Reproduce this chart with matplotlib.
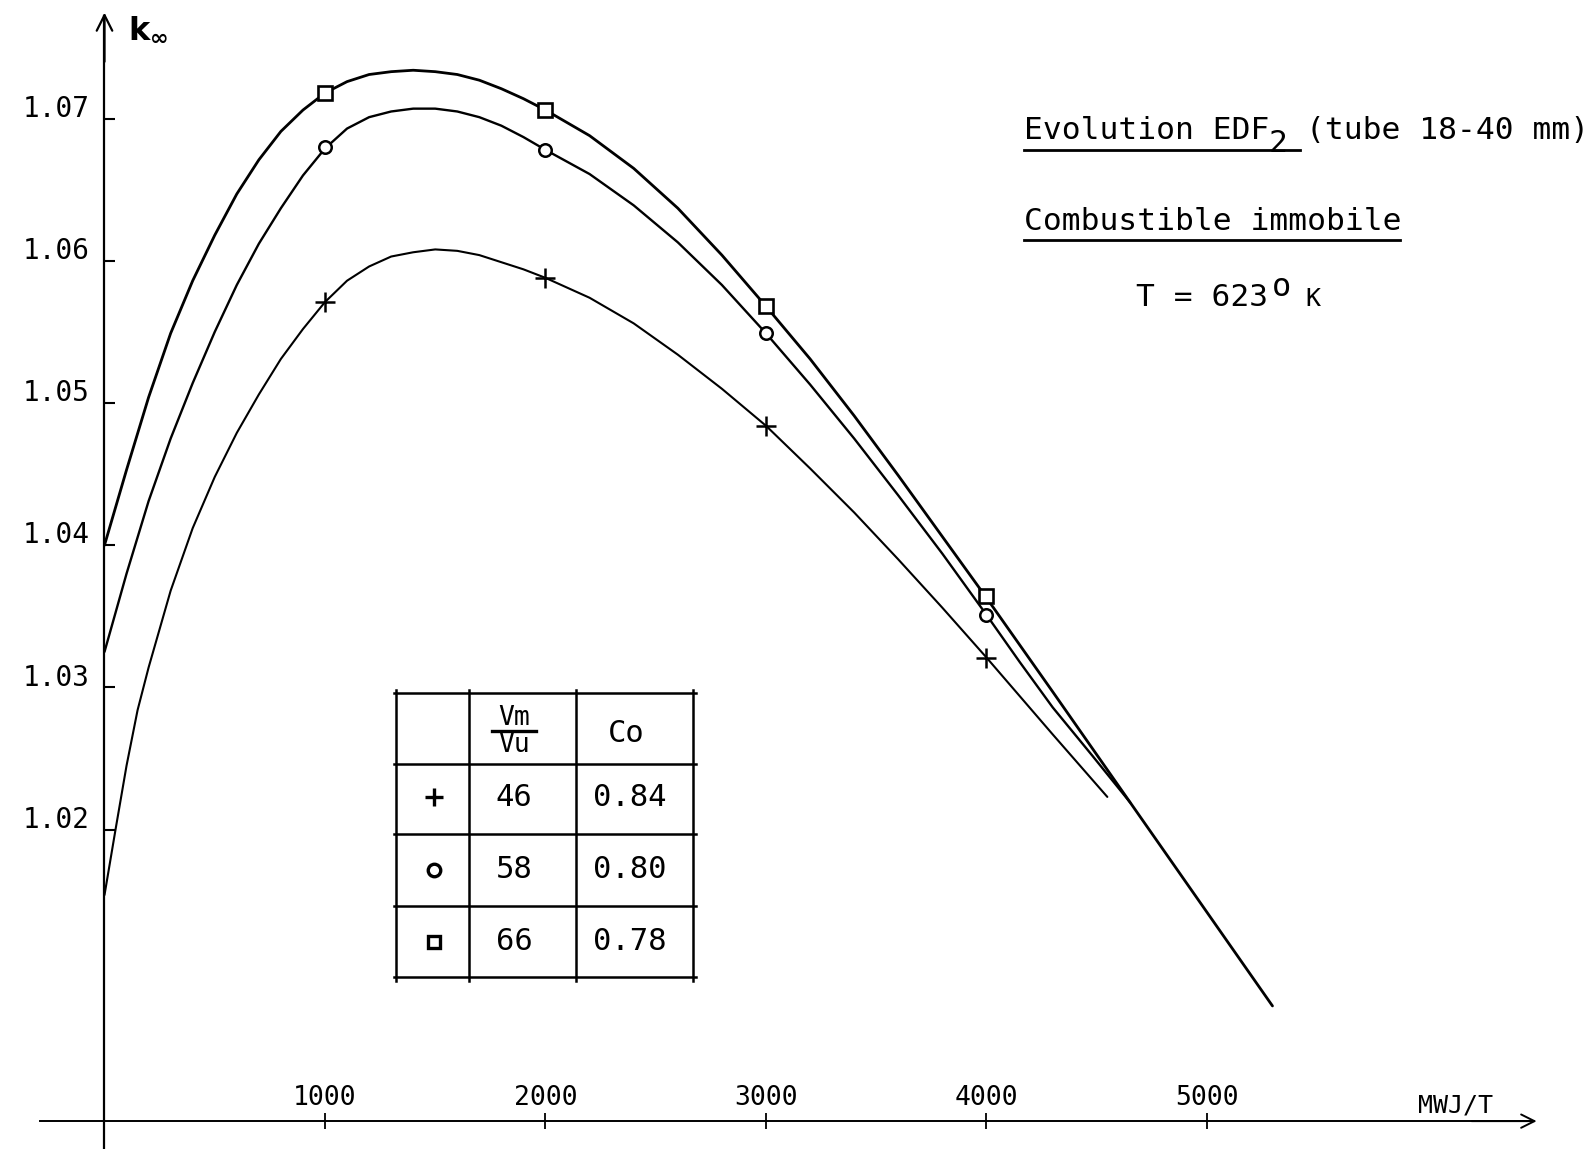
import matplotlib
matplotlib.use("Agg")
import matplotlib.pyplot as plt
from matplotlib.lines import Line2D

plt.rcParams['font.family'] = ['DejaVu Sans Mono', 'DejaVu Sans']

# burnup (MWJ/T) at the measured points
burnup = [1000, 2000, 3000, 4000]
k_46 = [1.0571, 1.0588, 1.0484, 1.0321]
k_58 = [1.0680, 1.0678, 1.0549, 1.0351]
k_66 = [1.0718, 1.0706, 1.0568, 1.0364]

# hand-drawn curves
sq_x = [0, 100, 200, 300, 400, 500, 600, 700, 800, 900, 1000, 1100, 1200, 1300, 1400, 1500,
        1600, 1700, 1800, 1900, 2000, 2200, 2400, 2600, 2800, 3000, 3200, 3400, 3600, 3800,
        4000, 4300, 4652, 5297]
sq_y = [1.0400, 1.0453, 1.0504, 1.0549, 1.0586, 1.0618, 1.0647, 1.0671, 1.0691, 1.0706, 1.0718,
        1.0726, 1.0731, 1.0733, 1.0734, 1.0733, 1.0731, 1.0727, 1.0721, 1.0714, 1.0706, 1.0688,
        1.0665, 1.0637, 1.0604, 1.0568, 1.0531, 1.0491, 1.0449, 1.0406, 1.0363, 1.0297, 1.0219,
        1.0076]
ci_x = [0, 100, 200, 300, 400, 500, 600, 700, 800, 900, 1000, 1100, 1200, 1300, 1400, 1500,
        1600, 1700, 1800, 1900, 2000, 2200, 2400, 2600, 2800, 3000, 3200, 3400, 3600, 3800,
        4000, 4150, 4300, 4480, 4652]
ci_y = [1.0325, 1.0380, 1.0431, 1.0475, 1.0514, 1.0550, 1.0583, 1.0612, 1.0637, 1.0660, 1.0679,
        1.0693, 1.0701, 1.0705, 1.0707, 1.0707, 1.0705, 1.0701, 1.0695, 1.0687, 1.0678, 1.0661,
        1.0639, 1.0613, 1.0583, 1.0549, 1.0513, 1.0475, 1.0435, 1.0394, 1.0351, 1.0318, 1.0286,
        1.0252, 1.0219]
pl_x = [0, 50, 100, 150, 200, 300, 400, 500, 600, 700, 800, 900, 1000, 1100, 1200, 1300, 1400,
        1500, 1600, 1700, 1800, 1900, 2000, 2200, 2400, 2600, 2800, 3000, 3200, 3400, 3600,
        3800, 4000, 4300, 4548]
pl_y = [1.0154, 1.0200, 1.0245, 1.0284, 1.0314, 1.0368, 1.0412, 1.0448, 1.0479, 1.0506, 1.0531,
        1.0552, 1.0571, 1.0586, 1.0596, 1.0603, 1.0606, 1.0608, 1.0607, 1.0604, 1.0599, 1.0594,
        1.0588, 1.0574, 1.0556, 1.0534, 1.0510, 1.0484, 1.0454, 1.0423, 1.0390, 1.0356, 1.0321,
        1.0267, 1.0223]

yticks = [1.02, 1.03, 1.04, 1.05, 1.06, 1.07]
xticks = [1000, 2000, 3000, 4000, 5000]

# legend table
tab_markers = ['+', 'o', 's']
tab_ratio = ['46', '58', '66']
tab_co = ['0.84', '0.80', '0.78']

W, H = 1590, 1149
fig = plt.figure(figsize=(W / 100, H / 100), dpi=100)
ax = fig.add_axes([0, 0, 1, 1])
ax.set_xlim(-473.9, 6737)
ax.set_ylim(0.99754, 1.07834)

x_axis_y = 0.9995
for s in ['top', 'right']:
    ax.spines[s].set_visible(False)
ax.spines['left'].set_position(('data', 0))
ax.spines['bottom'].set_position(('data', x_axis_y))
ax.spines['left'].set_bounds(0.99754, 1.0772)
ax.spines['bottom'].set_bounds(-292, 6480)
ax.spines['left'].set_linewidth(1.6)
ax.spines['bottom'].set_linewidth(1.4)
ax.set_yticks(yticks)
ax.set_xticks(xticks)
ax.tick_params(axis='y', direction='in', length=8, width=1.5, labelleft=False)
ax.tick_params(axis='x', direction='inout', length=11, width=1.3, labelbottom=False)

# axis arrows
ax.annotate('', xy=(0, 1.07745), xytext=(0, 1.0740),
            arrowprops=dict(arrowstyle='->', lw=1.6, mutation_scale=28, shrinkA=0, shrinkB=0))
ax.annotate('', xy=(6495, x_axis_y), xytext=(6200, x_axis_y),
            arrowprops=dict(arrowstyle='->', lw=1.4, mutation_scale=24, shrinkA=0, shrinkB=0))

for v in yticks:
    ax.annotate(f'{v:.2f}', xy=(0, v), xytext=(-11, 7), textcoords='offset points',
                ha='right', va='center', fontsize=20)
for v in xticks:
    ax.annotate(str(v), xy=(v, x_axis_y), xytext=(0, 17), textcoords='offset points',
                ha='center', va='center', fontsize=19)

ax.annotate('MWJ/T', xy=(6125, x_axis_y), xytext=(0, 11), textcoords='offset points',
            ha='center', va='center', fontsize=18)

# curves
ax.plot(sq_x, sq_y, color='black', lw=2.0, solid_capstyle='round', solid_joinstyle='round')
ax.plot(ci_x, ci_y, color='black', lw=1.7, solid_capstyle='round', solid_joinstyle='round')
ax.plot(pl_x, pl_y, color='black', lw=1.5, solid_capstyle='round', solid_joinstyle='round')

ax.plot(burnup, k_66, ls='none', marker='s', ms=10, mfc='white', mec='black', mew=1.9)
ax.plot(burnup, k_58, ls='none', marker='o', ms=9, mfc='white', mec='black', mew=1.8)
ax.plot(burnup, k_46, ls='none', marker='+', ms=15, mec='black', mew=1.8)


def px(x, y):
    return x / W, 1 - y / H


fig.text(*px(128, 30), r'$\mathbf{k}_{\mathbf{\infty}}$', fontsize=23, ha='left', va='center')

# annotations at top right
pitch = 18.8
fig.text(*px(1024, 131), 'Evolution EDF', fontsize=22.5, ha='left', va='center')
fig.text(*px(1024 + 13.5 * pitch, 144), '2', fontsize=22.5, ha='center', va='center')
fig.text(*px(1024 + 15 * pitch, 131), '(tube 18-40 mm)', fontsize=22.5, ha='left', va='center')
fig.add_artist(Line2D([1024 / W, 1300 / W], [1 - 150 / H, 1 - 150 / H], color='black', lw=2.0))
fig.text(*px(1024, 221), 'Combustible immobile', fontsize=22.5, ha='left', va='center')
fig.add_artist(Line2D([1024 / W, 1400 / W], [1 - 240 / H, 1 - 240 / H], color='black', lw=2.0))
fig.text(*px(1136, 297), 'T = 623', fontsize=22.5, ha='left', va='center')
fig.text(*px(1281, 287), 'o', fontsize=23, ha='center', va='center')
fig.text(*px(1313, 299), 'K', fontsize=18, ha='center', va='center')

# legend table
col_x = [395.5, 468.5, 576, 692.5]
row_y = [692.5, 763.5, 833.5, 905.5, 976.5]
for x in col_x:
    fig.add_artist(Line2D([x / W, x / W], [1 - (row_y[0] - 3) / H, 1 - (row_y[-1] + 4) / H],
                          color='black', lw=1.8))
for y in row_y:
    fig.add_artist(Line2D([(col_x[0] - 2) / W, (col_x[-1] + 3) / W], [1 - y / H, 1 - y / H],
                          color='black', lw=1.8))

fig.text(*px(514, 718), 'Vm', fontsize=19, ha='center', va='center')
fig.add_artist(Line2D([492 / W, 536 / W], [1 - 731 / H, 1 - 731 / H], color='black', lw=2.4))
fig.text(*px(514, 745), 'Vu', fontsize=19, ha='center', va='center')
fig.text(*px(626, 734), 'Co', fontsize=22, ha='center', va='center')

rows_c = [797, 870, 942]
for i, yc in enumerate(rows_c):
    fig.add_artist(Line2D([434 / W], [1 - yc / H], marker=tab_markers[i],
                          ms=13 if tab_markers[i] == '+' else 9, mfc='white', mec='black',
                          mew=2.4, ls='none'))
    fig.text(*px(514, yc), tab_ratio[i], fontsize=22, ha='center', va='center')
    fig.text(*px(630, yc), tab_co[i], fontsize=22, ha='center', va='center')

fig.savefig('out.png', dpi=100)
